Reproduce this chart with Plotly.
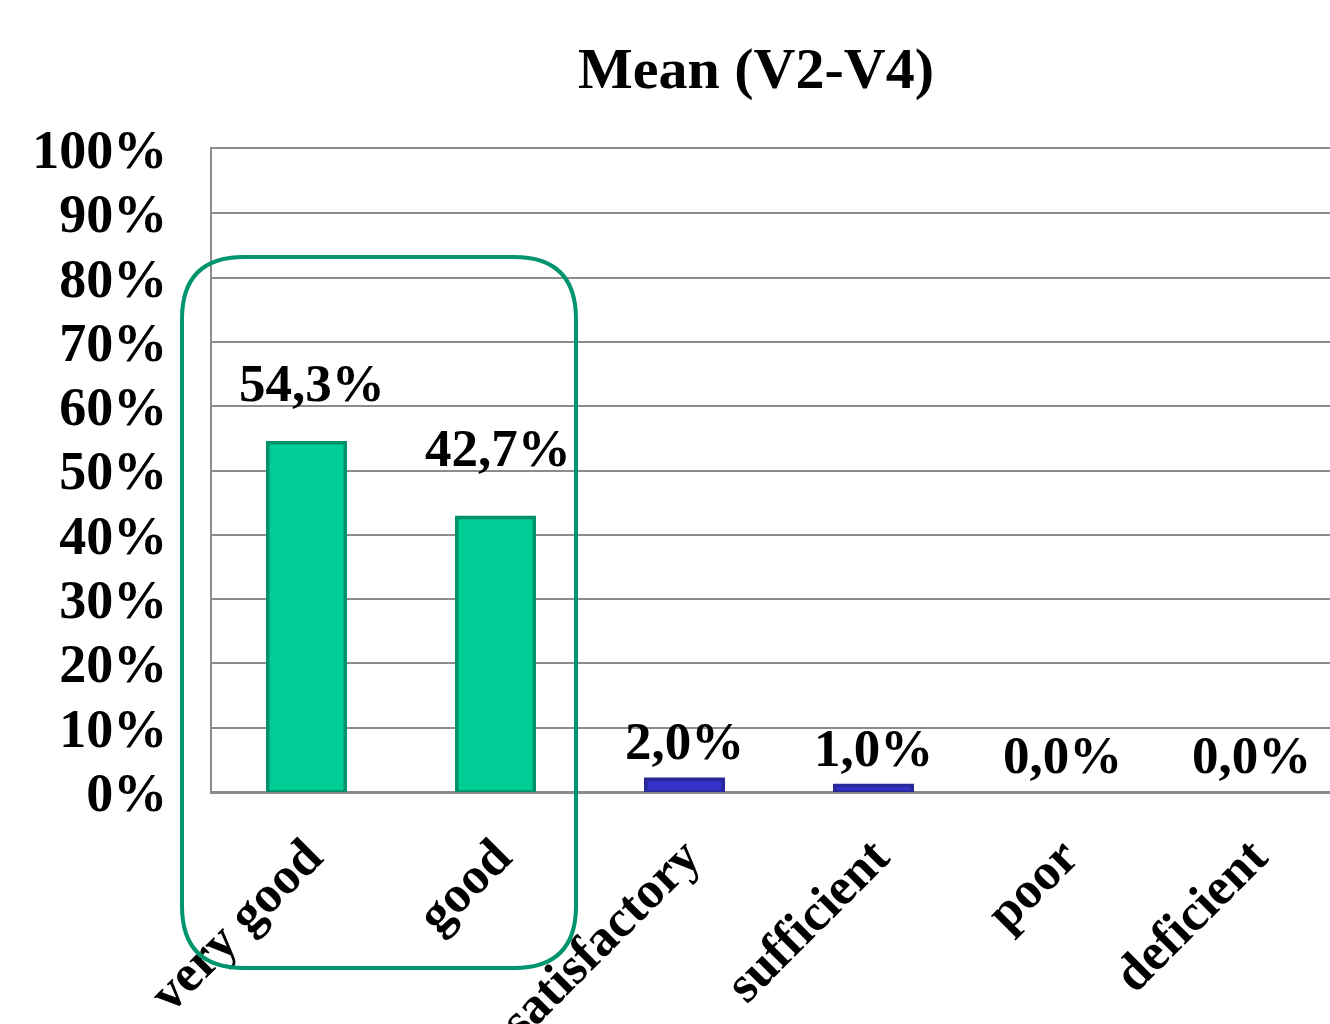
import plotly.graph_objects as go

categories = ["very good", "good", "satisfactory", "sufficient", "poor", "deficient"]
values = [54.3, 42.7, 2.0, 1.0, 0.0, 0.0]
tick_vals = [0, 10, 20, 30, 40, 50, 60, 70, 80, 90, 100]
tick_text = [f"{v}%" for v in tick_vals]
title_text = "Mean (V2-V4)"

# styles
fill_colors = ["#00CC96", "#00CC96", "#3333CC", "#3333CC", "#3333CC", "#3333CC"]
line_colors = ["#00916B", "#00916B", "#28289A", "#28289A", "#28289A", "#28289A"]
line_widths = [3.5 if v > 0 else 0 for v in values]
label_yshift = [60, 69, 38, 38, 37, 37]
label_xshift = [5, 2, 0, 0, 0, 0]

W, H = 1330, 1024
L, R, T, B = 212, 0, 149, 232
FONT = "Liberation Serif, Times New Roman, serif"

fig = go.Figure()
fig.add_trace(go.Bar(
    x=categories, y=values,
    marker=dict(color=fill_colors, line=dict(color=line_colors, width=line_widths)),
    hoverinfo="skip",
))

for c, v, ys, xs in zip(categories, values, label_yshift, label_xshift):
    fig.add_annotation(
        x=c, y=v, xref="x", yref="y",
        text=f"{v:.1f}%".replace(".", ","),
        showarrow=False, yshift=ys, xshift=xs, yanchor="middle",
        font=dict(family=FONT, size=53, color="black", weight="bold"),
    )

# rounded highlight box around first two bars (pixel layout -> paper)
pw, ph = W - L - R, H - T - B
def px(x):
    return (x - L) / pw
def py(y):
    return (H - B - y) / ph
x0, x1, y0, y1, r = 182, 576, 257, 968, 62
path = (
    f"M {px(x0 + r)},{py(y0)} L {px(x1 - r)},{py(y0)} "
    f"Q {px(x1)},{py(y0)} {px(x1)},{py(y0 + r)} "
    f"L {px(x1)},{py(y1 - r)} Q {px(x1)},{py(y1)} {px(x1 - r)},{py(y1)} "
    f"L {px(x0 + r)},{py(y1)} Q {px(x0)},{py(y1)} {px(x0)},{py(y1 - r)} "
    f"L {px(x0)},{py(y0 + r)} Q {px(x0)},{py(y0)} {px(x0 + r)},{py(y0)} Z"
)
fig.add_shape(type="path", path=path, xref="paper", yref="paper",
              line=dict(color="#00956F", width=4), layer="above")

fig.update_layout(
    width=W, height=H,
    margin=dict(l=L, r=R, t=T, b=B, pad=0, autoexpand=False),
    paper_bgcolor="white", plot_bgcolor="white",
    showlegend=False, bargap=0.59,
    title=dict(text=title_text, x=756 / W, xanchor="center",
               y=1 - 68 / H, yanchor="middle",
               font=dict(family=FONT, size=58, color="black", weight="bold")),
)
fig.update_xaxes(
    type="category", range=[-0.5, 5.5 - 16 / 189], automargin=False,
    tickangle=-45, showgrid=False, ticks="",
    showline=True, mirror=True, linecolor="#8C8C8C", linewidth=2,
    tickfont=dict(family=FONT, size=52, color="black", weight="bold"),
    ticklabelstandoff=11,
)
fig.update_yaxes(
    range=[0, 100], tickvals=tick_vals, ticktext=tick_text, automargin=False,
    showgrid=True, gridcolor="#8C8C8C", gridwidth=2,
    zeroline=True, zerolinecolor="#8C8C8C", zerolinewidth=2,
    showline=True, linecolor="#8C8C8C", linewidth=2, ticks="",
    tickfont=dict(family=FONT, size=54, color="black", weight="bold"),
    ticklabelstandoff=32,
)

fig.write_html("out.html")
